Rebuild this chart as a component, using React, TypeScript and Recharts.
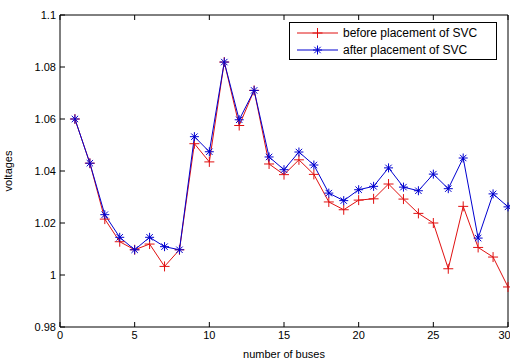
import { LineChart, Line, XAxis, YAxis } from "recharts";

const buses = [1, 2, 3, 4, 5, 6, 7, 8, 9, 10, 11, 12, 13, 14, 15, 16, 17, 18, 19, 20, 21, 22, 23, 24, 25, 26, 27, 28, 29, 30];
const before = [1.06, 1.043, 1.0215, 1.0128, 1.0097, 1.0119, 1.0033, 1.0097, 1.0505, 1.0435, 1.0819, 1.0575, 1.071, 1.0427, 1.0386, 1.0443, 1.0387, 1.0281, 1.0251, 1.0288, 1.0293, 1.035, 1.0292, 1.0237, 1.02, 1.0024, 1.0264, 1.0106, 1.0069, 0.9954];
const after = [1.06, 1.043, 1.0232, 1.0145, 1.0097, 1.0145, 1.0109, 1.0097, 1.0532, 1.0474, 1.0819, 1.0597, 1.071, 1.0454, 1.0405, 1.0473, 1.0423, 1.0315, 1.0286, 1.0328, 1.0341, 1.0412, 1.0338, 1.0324, 1.0388, 1.0332, 1.045, 1.0142, 1.0312, 1.0262];
const xTicks = [0, 5, 10, 15, 20, 25, 30];
const yTicks = [0.98, 1, 1.02, 1.04, 1.06, 1.08, 1.1];

const RED = "#e01010";
const BLUE = "#0000d0";
const FONT = "'Liberation Sans', Arial, sans-serif";

const data = buses.map((b, i) => ({ bus: b, before: before[i], after: after[i] }));

function Plus({ cx, cy, color }: any) {
  if (cx == null || cy == null) return null;
  return (
    <g stroke={color} strokeWidth={1}>
      <line x1={cx - 5} y1={cy} x2={cx + 5} y2={cy} />
      <line x1={cx} y1={cy - 5} x2={cx} y2={cy + 5} />
    </g>
  );
}

function Star({ cx, cy, color }: any) {
  if (cx == null || cy == null) return null;
  const r = 4.5;
  const d = 3.2;
  return (
    <g stroke={color} strokeWidth={1}>
      <line x1={cx - r} y1={cy} x2={cx + r} y2={cy} />
      <line x1={cx} y1={cy - r} x2={cx} y2={cy + r} />
      <line x1={cx - d} y1={cy - d} x2={cx + d} y2={cy + d} />
      <line x1={cx - d} y1={cy + d} x2={cx + d} y2={cy - d} />
    </g>
  );
}

function LegendBox() {
  const row = (label: string, color: string, star: boolean, y: number) => (
    <g>
      <line x1={8} y1={y} x2={49} y2={y} stroke={color} strokeWidth={1} />
      {star ? <Star cx={28.5} cy={y} color={color} /> : <Plus cx={28.5} cy={y} color={color} />}
      <text x={54} y={y + 4} fontSize={12} fontFamily={FONT} fill="#000">
        {label}
      </text>
    </g>
  );
  return (
    <svg width={208} height={38} style={{ display: "block" }}>
      <rect x={0.5} y={0.5} width={207} height={37} fill="#fff" stroke="#000" />
      {row("before placement of SVC", RED, false, 11)}
      {row("after placement of SVC", BLUE, true, 28)}
    </svg>
  );
}

export default function App() {
  const tickStyle = { fontSize: 11, fontFamily: FONT, fill: "#000" };
  return (
    <div style={{ position: "absolute", left: 0, top: 0, width: 510, height: 363, background: "#fff" }}>
      <LineChart width={510} height={363} data={data} margin={{ top: 15, right: 2, left: 0, bottom: 0 }}>
        <XAxis
          dataKey="bus"
          type="number"
          domain={[0, 30]}
          ticks={xTicks}
          height={36}
          tickSize={-5}
          tickMargin={9}
          tick={tickStyle}
          stroke="#000"
          label={{ value: "number of buses", position: "insideBottom", offset: 5, fontSize: 11, fontFamily: FONT, fill: "#000" }}
        />
        <XAxis
          xAxisId="top"
          orientation="top"
          mirror
          dataKey="bus"
          type="number"
          domain={[0, 30]}
          ticks={xTicks}
          height={20}
          tickSize={5}
          tickFormatter={() => ""}
          stroke="#000"
        />
        <YAxis
          type="number"
          domain={[0.98, 1.1]}
          ticks={yTicks}
          width={60}
          tickSize={-5}
          tickMargin={9}
          tick={tickStyle}
          tickFormatter={(v: number) => String(+v.toFixed(2))}
          stroke="#000"
          label={{
            content: () => (
              <text x={12} y={171} transform="rotate(-90 12 171)" textAnchor="middle" fontSize={11} fontFamily={FONT} fill="#000">
                voltages
              </text>
            ),
          }}
        />
        <YAxis
          yAxisId="right"
          orientation="right"
          mirror
          type="number"
          domain={[0.98, 1.1]}
          ticks={yTicks}
          width={30}
          tickSize={5}
          tickFormatter={() => ""}
          stroke="#000"
        />
        <Line
          dataKey="before"
          stroke={RED}
          strokeWidth={1}
          dot={(p: any) => <Plus key={"b" + p.index} cx={p.cx} cy={p.cy} color={RED} />}
          activeDot={false}
          isAnimationActive={false}
        />
        <Line
          dataKey="after"
          stroke={BLUE}
          strokeWidth={1}
          dot={(p: any) => <Star key={"a" + p.index} cx={p.cx} cy={p.cy} color={BLUE} />}
          activeDot={false}
          isAnimationActive={false}
        />
      </LineChart>
      <div style={{ position: "absolute", left: 289, top: 22 }}>
        <LegendBox />
      </div>
    </div>
  );
}
